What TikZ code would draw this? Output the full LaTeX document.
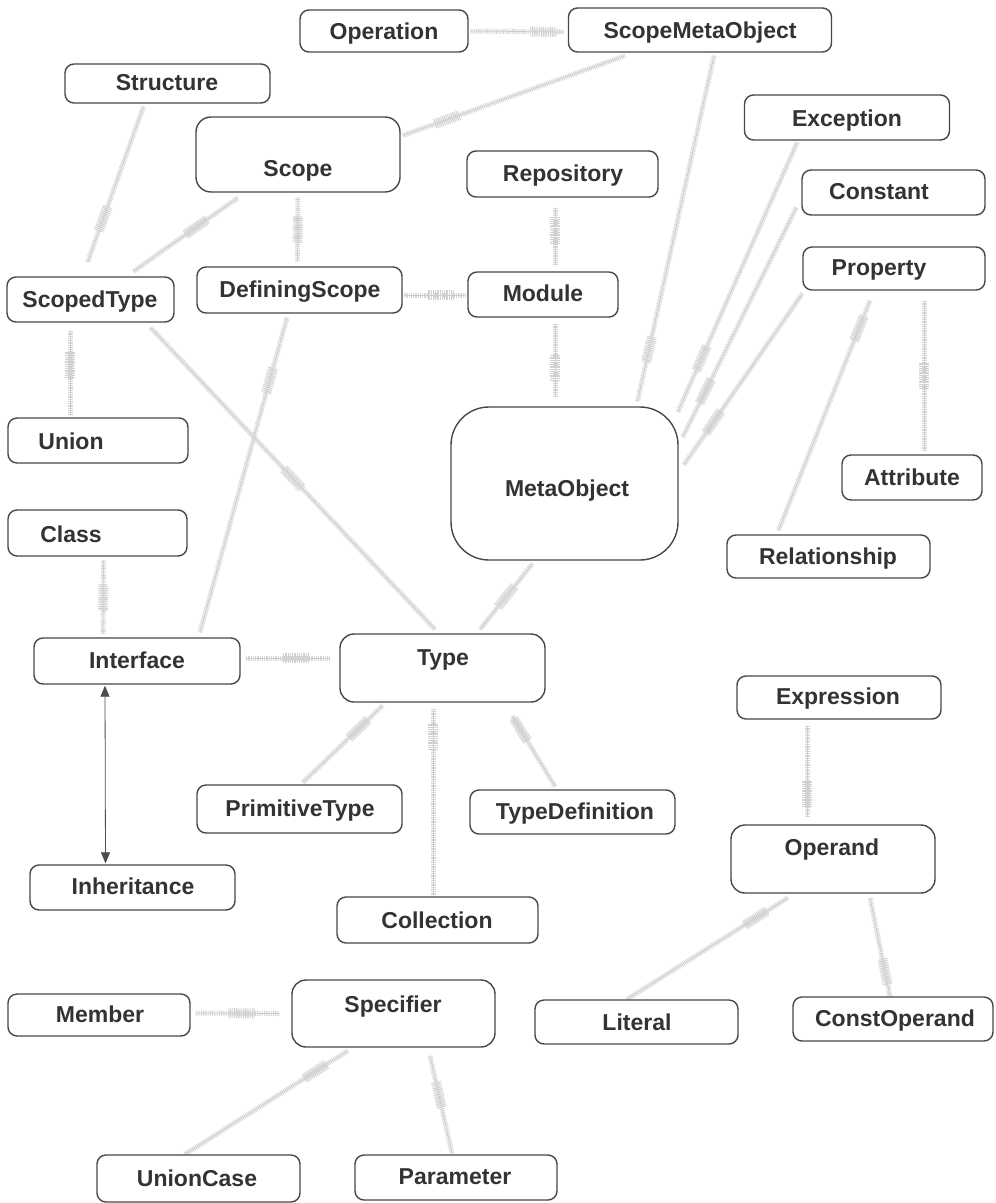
\documentclass[tikz,border=0pt]{standalone}
\usepackage{fontspec}
\setmainfont{Liberation Sans}
\usetikzlibrary{calc,arrows.meta,backgrounds}

% hatched generalisation link: #1 from, #2 to, #3 position of the wide part
\newcommand\link[3]{%
  \path #1 coordinate (lkA) #2 coordinate (lkB);
  \coordinate (lkC) at ($(lkA)!#3!(lkB)$);
  \draw[hatch] #1 -- #2;
  \draw[core] #1 -- #2;
  \draw[head] ($(lkC)!13pt!(lkA)$) -- ($(lkC)!13pt!(lkB)$);
}

\begin{document}
\begin{tikzpicture}[x=1pt,y=-1pt,
  box/.style={draw=black!72, line width=1.4pt, rounded corners=9pt, fill=white},
  lbl/.style={text=black!80, font=\bfseries\fontsize{23}{27}\selectfont, inner sep=0pt, anchor=base},
  hatch/.style={line width=5pt, draw=black!16, dash pattern=on 0.9pt off 0.9pt},
  core/.style={line width=0.7pt, draw=black!20},
  head/.style={line width=10pt, draw=black!18, dash pattern=on 0.9pt off 0.9pt},
  inh/.style={draw=black!70, line width=0.8pt,
    {Triangle[width=9pt,length=11pt]}-{Triangle[width=9pt,length=11pt]}}
]
\useasboundingbox (0,0) rectangle (996,1203);

% ---------- classes ----------
\node[box, minimum width=168pt, minimum height=42pt] (op) at (384,31) {};
\node[lbl] (opt) at (384,39) {Operation};
\node[box, minimum width=263pt, minimum height=44pt] (smo) at (700,30) {};
\node[lbl] (smot) at (700,38) {ScopeMetaObject};
\node[box, minimum width=205pt, minimum height=39pt] (struct) at (167.5,83.5) {};
\node[lbl] (structt) at (167,90) {Structure};
\node[box, rounded corners=15pt, minimum width=204pt, minimum height=75pt] (scope) at (298,154.5) {};
\node[lbl] (scopet) at (298,176) {Scope};
\node[box, minimum width=191pt, minimum height=46pt] (repo) at (562.5,174) {};
\node[lbl] (repot) at (563,181) {Repository};
\node[box, minimum width=205pt, minimum height=45pt] (exc) at (847,117.5) {};
\node[lbl] (exct) at (847,126) {Exception};
\node[box, minimum width=183pt, minimum height=45pt] (const) at (893.5,192.5) {};
\node[lbl] (constt) at (879,199) {Constant};
\node[box, minimum width=182pt, minimum height=43pt] (prop) at (894,268.5) {};
\node[lbl] (propt) at (879,275) {Property};
\node[box, minimum width=167pt, minimum height=45pt] (stype) at (90.5,299.5) {};
\node[lbl] (stypet) at (90,307) {ScopedType};
\node[box, minimum width=205pt, minimum height=46pt] (dscope) at (299.5,290) {};
\node[lbl] (dscopet) at (300,297) {DefiningScope};
\node[box, minimum width=150pt, minimum height=45pt] (module) at (543,294.5) {};
\node[lbl] (modulet) at (543,301) {Module};
\node[box, minimum width=180pt, minimum height=45pt] (union) at (98,440.5) {};
\node[lbl] (uniont) at (71,449) {Union};
\node[box, rounded corners=38pt, minimum width=227pt, minimum height=153pt] (meta) at (564.5,483.5) {};
\node[lbl] (metat) at (567,496) {MetaObject};
\node[box, minimum width=140pt, minimum height=45pt] (attr) at (912,477.5) {};
\node[lbl] (attrt) at (912,485) {Attribute};
\node[box, minimum width=203pt, minimum height=43pt] (rel) at (828.5,556.5) {};
\node[lbl] (relt) at (828,564) {Relationship};
\node[box, minimum width=179pt, minimum height=46pt] (class) at (97.5,533) {};
\node[lbl] (classt) at (71,542) {Class};
\node[box, minimum width=206pt, minimum height=46pt] (iface) at (137,661) {};
\node[lbl] (ifacet) at (137,668) {Interface};
\node[box, rounded corners=14pt, minimum width=205pt, minimum height=68pt] (type) at (442.5,668) {};
\node[lbl] (typet) at (443,665) {Type};
\node[box, minimum width=204pt, minimum height=43pt] (expr) at (839,697.5) {};
\node[lbl] (exprt) at (838,704) {Expression};
\node[box, minimum width=205pt, minimum height=48pt] (prim) at (299.5,809) {};
\node[lbl] (primt) at (300,816) {PrimitiveType};
\node[box, minimum width=205pt, minimum height=44pt] (tdef) at (572.5,812) {};
\node[lbl] (tdeft) at (575,819) {TypeDefinition};
\node[box, rounded corners=14pt, minimum width=204pt, minimum height=68pt] (operand) at (833,859) {};
\node[lbl] (operandt) at (832,855) {Operand};
\node[box, minimum width=205pt, minimum height=45pt] (inh) at (132.5,887.5) {};
\node[lbl] (inht) at (133,894) {Inheritance};
\node[box, minimum width=201pt, minimum height=46pt] (coll) at (437.5,920) {};
\node[lbl] (collt) at (437,928) {Collection};
\node[box, minimum width=182pt, minimum height=42pt] (member) at (99,1015) {};
\node[lbl] (membert) at (100,1022) {Member};
\node[box, rounded corners=14pt, minimum width=203pt, minimum height=67pt] (spec) at (393.5,1013.5) {};
\node[lbl] (spect) at (393,1012) {Specifier};
\node[box, minimum width=203pt, minimum height=44pt] (literal) at (636.5,1022) {};
\node[lbl] (literalt) at (637,1030) {Literal};
\node[box, minimum width=200pt, minimum height=44pt] (constop) at (893,1019) {};
\node[lbl] (constopt) at (895,1026) {ConstOperand};
\node[box, minimum width=203pt, minimum height=47pt] (ucase) at (198.5,1178.5) {};
\node[lbl] (ucaset) at (197,1186) {UnionCase};
\node[box, minimum width=202pt, minimum height=45pt] (param) at (456,1177.5) {};
\node[lbl] (paramt) at (455,1184) {Parameter};

% ---------- generalisation links ----------
\begin{scope}[on background layer]
\link{([xshift=2pt]op.east)}{([xshift=-4pt,yshift=-2pt]smo.west)}{0.78}
\link{([xshift=2pt,yshift=19pt]scope.east)}{([xshift=-75pt,yshift=-3pt]smo.south)}{0.2}
\link{([xshift=14pt,yshift=-3pt]smo.south)}{([xshift=73pt,yshift=5pt]meta.north)}{0.85}
\link{([xshift=-24pt,yshift=-3pt]struct.south)}{([xshift=-3pt,yshift=14pt]stype.north)}{0.72}
\link{([xshift=43pt,yshift=5pt]stype.north)}{([xshift=-60pt,yshift=-5pt]scope.south)}{0.6}
\link{([xshift=-2pt,yshift=5pt]dscope.north)}{([yshift=-5pt]scope.south)}{0.5}
\link{([xshift=1pt,yshift=-5pt]dscope.east)}{([xshift=-2pt,yshift=-0.5pt]module.west)}{0.6}
\link{([xshift=-7.5pt,yshift=-10pt]repo.south)}{([xshift=12pt,yshift=7pt]module.north)}{0.4}
\link{([xshift=12pt,yshift=-6pt]module.south)}{([xshift=-9.5pt,yshift=9pt]meta.north)}{0.6}
\link{([xshift=-20.5pt,yshift=-8pt]stype.south)}{([xshift=-28pt,yshift=2pt]union.north)}{0.4}
\link{([xshift=-24pt,yshift=-5pt]stype.south east)}{([xshift=-7.5pt,yshift=4pt]type.north)}{0.5}
\link{([xshift=-12.5pt,yshift=-4pt]dscope.south)}{([xshift=63pt,yshift=5pt]iface.north)}{0.2}
\link{([xshift=-32pt,yshift=-3pt]meta.south)}{([xshift=37.5pt,yshift=4pt]type.north)}{0.5}
\link{([xshift=6pt,yshift=-4pt]class.south)}{([xshift=-34pt,yshift=3pt]iface.north)}{0.5}
\link{([xshift=5pt,yshift=3pt]iface.east)}{([xshift=-10pt,yshift=10pt]type.west)}{0.6}
\link{([xshift=3.5pt,yshift=2pt]prim.north)}{([xshift=-60pt,yshift=-3pt]type.south)}{0.7}
\link{([xshift=-4.5pt,yshift=1pt]coll.north)}{([xshift=-9.5pt,yshift=-6pt]type.south)}{0.85}
\link{([xshift=-17.5pt,yshift=3pt]tdef.north)}{([xshift=69.5pt,yshift=-13pt]type.south)}{0.8}
\link{([xshift=-32pt,yshift=-6pt]expr.south)}{([xshift=-26pt,yshift=8pt]operand.north)}{0.75}
\link{([xshift=-9.5pt]literal.north)}{([xshift=-45pt,yshift=-4pt]operand.south)}{0.8}
\link{([xshift=-3pt]constop.north)}{([xshift=37pt,yshift=-4pt]operand.south)}{0.25}
\link{([xshift=5pt,yshift=2pt]member.east)}{([xshift=-12pt]spec.west)}{0.55}
\link{([xshift=-13.5pt]ucase.north)}{([xshift=-45.5pt,yshift=-3pt]spec.south)}{0.8}
\link{([xshift=-4pt,yshift=1pt]param.north)}{([xshift=36.5pt,yshift=-8pt]spec.south)}{0.6}
\link{([xshift=-50pt,yshift=-2pt]exc.south)}{([xshift=-1pt,yshift=-6pt]meta.north east)}{0.8}
\link{([xshift=-5pt,yshift=8pt]const.south west)}{([xshift=4pt,yshift=46.5pt]meta.east)}{0.8}
\link{([yshift=-3pt]prop.south west)}{([xshift=5pt,yshift=18.5pt]meta.east)}{0.75}
\link{([xshift=-24pt,yshift=-10pt]prop.south)}{([xshift=-50pt,yshift=4pt]rel.north)}{0.12}
\link{([xshift=30pt,yshift=-10pt]prop.south)}{([xshift=12pt,yshift=4pt]attr.north)}{0.5}
\end{scope}

% ---------- inheritance association ----------
\draw[inh] ([xshift=-32pt,yshift=-1pt]iface.south) -- ([xshift=-27pt,yshift=1pt]inh.north);

\end{tikzpicture}
\end{document}
